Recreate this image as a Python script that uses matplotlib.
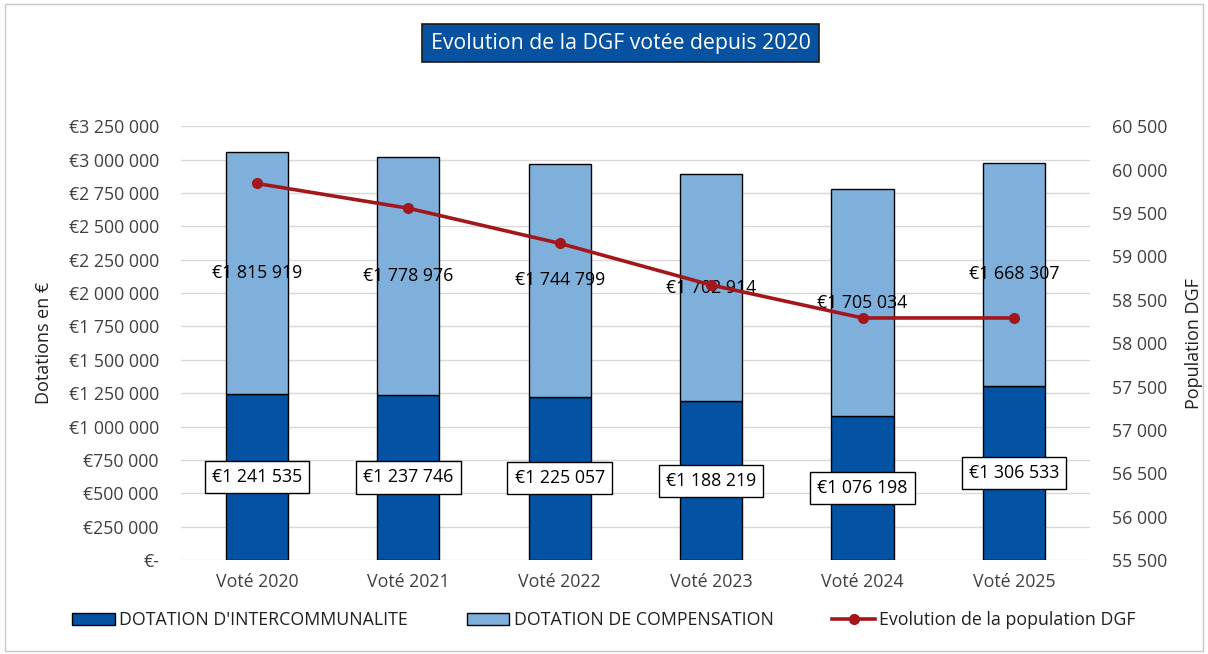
import matplotlib.pyplot as plt
import matplotlib.ticker as mticker
from matplotlib.patches import Patch, Rectangle
from matplotlib.lines import Line2D

plt.rcParams['font.family'] = ['Open Sans', 'DejaVu Sans']

# data
years = ['Voté 2020', 'Voté 2021', 'Voté 2022', 'Voté 2023', 'Voté 2024', 'Voté 2025']
intercommunalite = [1241535, 1237746, 1225057, 1188219, 1076198, 1306533]
compensation = [1815919, 1778976, 1744799, 1702914, 1705034, 1668307]
population = [59840, 59555, 59150, 58670, 58290, 58290]

dark_blue = '#0352a3'
light_blue = '#7eb0db'
red = '#a3171c'


def euro(v, pos=None):
    if v == 0:
        return '€-'
    return '€' + f'{int(round(v)):,}'.replace(',', ' ')


def spaced(v, pos=None):
    return f'{int(round(v)):,}'.replace(',', ' ')


fig = plt.figure(figsize=(12.08, 6.54), dpi=100)
ax = fig.add_axes([0.150, 0.1437, 0.752, 0.6633])
ax2 = ax.twinx()

x = range(len(years))
w = 0.41
ax.bar(x, intercommunalite, w, color=dark_blue, edgecolor='black', linewidth=1, zorder=2)
ax.bar(x, compensation, w, bottom=intercommunalite, color=light_blue,
       edgecolor='black', linewidth=1, zorder=2)

# data labels
for i in x:
    ax.text(i, intercommunalite[i] / 2, euro(intercommunalite[i]), ha='center', va='center',
            fontsize=12.8, color='black', zorder=5,
            bbox=dict(boxstyle='square,pad=0.4', facecolor='white', edgecolor='black', linewidth=1))
    ax.text(i, intercommunalite[i] + compensation[i] / 2, euro(compensation[i]),
            ha='center', va='center', fontsize=12.8, color='black', zorder=5)

ax2.plot(x, population, color=red, linewidth=2.6, marker='o', markersize=7, zorder=3)

ax.set_ylim(0, 3250000)
ax.yaxis.set_major_locator(mticker.MultipleLocator(250000))
ax.yaxis.set_major_formatter(mticker.FuncFormatter(euro))
ax2.set_ylim(55500, 60500)
ax2.yaxis.set_major_locator(mticker.MultipleLocator(500))
ax2.yaxis.set_major_formatter(mticker.FuncFormatter(spaced))
ax.set_xlim(-0.5, len(years) - 0.5)
ax.set_xticks(list(x))
ax.set_xticklabels(years)

ax.grid(axis='y', color='#d9d9d9', linewidth=1, zorder=0)
ax.set_axisbelow(True)
for a in (ax, ax2):
    for s in a.spines.values():
        s.set_visible(False)
    a.tick_params(length=0, labelsize=12.8, colors='#404040')
ax.tick_params(axis='y', pad=16)
ax.tick_params(axis='x', pad=9)
ax2.tick_params(axis='y', pad=16)

ax.set_ylabel('Dotations en €', fontsize=13, color='#202020', labelpad=11)
ax2.set_ylabel('Population DGF', fontsize=13, color='#202020', labelpad=13)

fig.text(0.514, 0.934, 'Evolution de la DGF votée depuis 2020', ha='center', va='center',
         fontsize=15.3, color='white',
         bbox=dict(boxstyle='square,pad=0.4', facecolor='#0652a0', edgecolor='#1a1a1a', linewidth=1.2))

handles = [Patch(facecolor=dark_blue, edgecolor='black'),
           Patch(facecolor=light_blue, edgecolor='black'),
           Line2D([0], [0], color=red, linewidth=2.6, marker='o', markersize=7)]
labels = ["DOTATION D'INTERCOMMUNALITE", 'DOTATION DE COMPENSATION', 'Evolution de la population DGF']
fig.legend(handles, labels, loc='center', bbox_to_anchor=(0.5, 0.052), ncol=3, frameon=False,
           fontsize=12.8, columnspacing=3.3, handlelength=2.4, handletextpad=0.25,
           labelcolor='#202020')

fig.add_artist(Rectangle((0.004, 0.004), 0.992, 0.99, transform=fig.transFigure,
                         fill=False, edgecolor='#c8c8c8', linewidth=1))

fig.savefig('out.png', dpi=100)
